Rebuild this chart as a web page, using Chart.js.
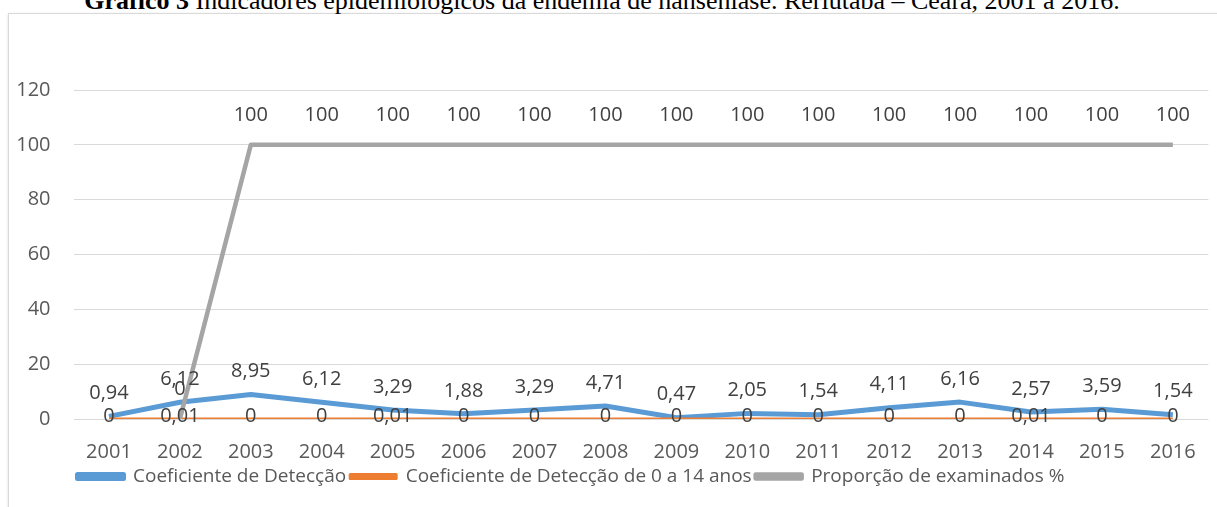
<!DOCTYPE html>
<html>
<head>
<meta charset="utf-8">
<script src="https://cdn.jsdelivr.net/npm/chart.js@4/dist/chart.umd.min.js"></script>
<style>
  html, body { margin: 0; padding: 0; background: #fff; overflow: hidden; }
  #wrap { position: relative; width: 1217px; height: 507px; }
  #frame { position: absolute; left: 8px; top: 13px; width: 1220px; height: 520px;
           border: 1px solid #d9d9d9; box-shadow: 0 1px 3px rgba(0,0,0,0.12); }
  #title { position: absolute; left: 0; width: 1204px; top: -12px; text-align: center;
           font-family: "Liberation Serif", serif; font-size: 26px; line-height: 26px;
           color: #000; white-space: nowrap; }
  #chart { position: absolute; left: 0; top: 0; }
</style>
</head>
<body>
<div id="wrap">
  <div id="frame"></div>
  <div id="title"><b>Gráfico 3</b> Indicadores epidemiológicos da endemia de hanseníase. Reriutaba – Ceará, 2001 a 2016.</div>
  <canvas id="chart" width="1217" height="507"></canvas>
</div>
<script>
const years = ["2001", "2002", "2003", "2004", "2005", "2006", "2007", "2008",
               "2009", "2010", "2011", "2012", "2013", "2014", "2015", "2016"];
const coefDeteccao = [0.94, 6.12, 8.95, 6.12, 3.29, 1.88, 3.29, 4.71, 0.47, 2.05, 1.54, 4.11, 6.16, 2.57, 3.59, 1.54];
const coef0a14 = [0, 0.01, 0, 0, 0.01, 0, 0, 0, 0, 0, 0, 0, 0, 0.01, 0, 0];
const propExaminados = [null, 0, 100, 100, 100, 100, 100, 100, 100, 100, 100, 100, 100, 100, 100, 100];
const yTicks = [0, 20, 40, 60, 80, 100, 120];

const FONT = "'Open Sans', sans-serif";
const fmt = (v) => String(v).replace(".", ",");

// value labels, Excel style: offset from the point in px
const valueLabels = {
  id: "valueLabels",
  afterDatasetsDraw(chart) {
    const ctx = chart.ctx;
    ctx.save();
    ctx.font = `20px ${FONT}`;
    ctx.fillStyle = "#404040";
    ctx.textAlign = "center";
    ctx.textBaseline = "middle";
    chart.data.datasets.forEach((ds, i) => {
      const meta = chart.getDatasetMeta(i);
      meta.data.forEach((pt, j) => {
        const v = ds.data[j];
        if (v == null) return;
        ctx.fillText(fmt(v), pt.x, pt.y + ds.labelOffset);
      });
    });
    ctx.restore();
  }
};

new Chart(document.getElementById("chart"), {
  type: "line",
  data: {
    labels: years,
    datasets: [
      { label: "Coeficiente de Detecção", data: coefDeteccao, borderColor: "#5b9bd5",
        backgroundColor: "#5b9bd5", borderWidth: 5, order: 2, labelOffset: -23 },
      { label: "Coeficiente de Detecção de 0 a 14 anos", data: coef0a14, borderColor: "#ed7d31",
        backgroundColor: "#ed7d31", borderWidth: 3, order: 1, labelOffset: -3 },
      { label: "Proporção de examinados %", data: propExaminados, borderColor: "#a5a5a5",
        backgroundColor: "#a5a5a5", borderWidth: 4.5, order: 0, labelOffset: -30 }
    ]
  },
  options: {
    responsive: false,
    animation: false,
    devicePixelRatio: 1,
    layout: { padding: { left: 0, right: 8.5, top: 90, bottom: 11 } },
    elements: {
      point: { radius: 0, hoverRadius: 0 },
      line: { tension: 0, borderJoinStyle: "round", borderCapStyle: "butt" }
    },
    scales: {
      x: {
        offset: true,
        grid: { display: false, drawTicks: false, offset: true },
        border: { display: false },
        ticks: { color: "#595959", font: { family: FONT, size: 20 }, padding: 21, maxRotation: 0, autoSkip: false },
        afterFit(s) { s.height = 44; }
      },
      y: {
        min: 0, max: 120,
        afterBuildTicks(s) { s.ticks = yTicks.map(v => ({ value: v })); },
        grid: { color: "#d9d9d9", lineWidth: 1, drawTicks: false },
        border: { display: false },
        ticks: { color: "#595959", font: { family: FONT, size: 20 }, padding: 23 },
        afterFit(s) { s.width = 73.5; }
      }
    },
    plugins: {
      legend: {
        position: "bottom",
        align: "start",
        fullSize: false,
        labels: {
          boxWidth: 46, boxHeight: 4, padding: 4,
          color: "#595959", font: { family: FONT, size: 19 },
          sort: (a, b) => a.datasetIndex - b.datasetIndex
        }
      },
      tooltip: { enabled: false }
    }
  },
  plugins: [valueLabels]
});
</script>
</body>
</html>
